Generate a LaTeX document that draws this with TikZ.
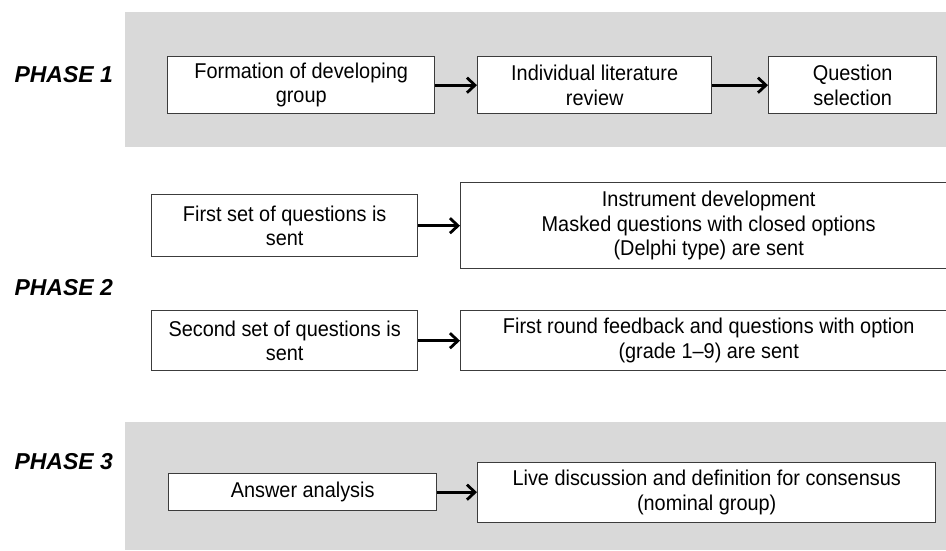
\documentclass[tikz,border=0pt]{standalone}
\usepackage{fontspec}
\setmainfont{Liberation Sans}
\newfontfamily\boxfont[FakeStretch=0.93]{Liberation Sans}
\usetikzlibrary{arrows.meta}
\definecolor{bandgray}{RGB}{217,217,217}
\definecolor{boxline}{RGB}{60,60,60}
\tikzset{
  box/.style={draw=boxline, line width=1.4pt, fill=white, anchor=north west,
    align=center, inner sep=0pt, font=\boxfont\fontsize{21.4}{24.5}\selectfont},
  phase/.style={anchor=west, font=\fontsize{23}{27}\selectfont\bfseries\itshape},
  flow/.style={line width=3.2pt, -{Straight Barb[length=8pt,width=15pt,line width=2.8pt]}},
}
\begin{document}
\begin{tikzpicture}[x=1pt,y=-1pt]
\useasboundingbox (0,0) rectangle (946,550);
\fill[white] (0,0) rectangle (946,550);
% bands
\fill[bandgray] (125,12) rectangle (946,147);
\fill[bandgray] (125,422) rectangle (946,550);
% labels
\node[phase] (p1) at (11,75) {PHASE 1};
\node[phase] (p2) at (11,288) {PHASE 2};
\node[phase] (p3) at (11,462) {PHASE 3};
% phase 1
\node[box, minimum width=267pt, minimum height=57pt] (a) at (167,56) {Formation of developing\\group};
\node[box, minimum width=234pt, minimum height=57pt] (b) at (477,56) {Individual literature\\review};
\node[box, minimum width=168pt, minimum height=57pt] (c) at (768,56) {Question\\selection};
% phase 2
\node[box, minimum width=266pt, minimum height=62pt] (d) at (151,194) {First set of questions is\\sent};
\node[box, minimum width=496pt, minimum height=86pt] (e) at (460,182) {Instrument development\\Masked questions with closed options\\(Delphi type) are sent};
\node[box, minimum width=266pt, minimum height=60pt] (f) at (151,310) {Second set of questions is\\sent};
\node[box, minimum width=496pt, minimum height=60pt] (g) at (460,310) {First round feedback and questions with option\\(grade 1–9) are sent};
% phase 3
\node[box, minimum width=268pt, minimum height=37pt] (h) at (168,473) {Answer analysis};
\node[box, minimum width=458pt, minimum height=60pt] (i) at (477,462) {Live discussion and definition for consensus\\(nominal group)};
% arrows
\draw[flow] (a.east) -- (b.west);
\draw[flow] (b.east) -- (c.west);
\draw[flow] (d.east) -- (e.west);
\draw[flow] (f.east) -- (g.west);
\draw[flow] (h.east) -- (h.east -| i.west);
\end{tikzpicture}
\end{document}
